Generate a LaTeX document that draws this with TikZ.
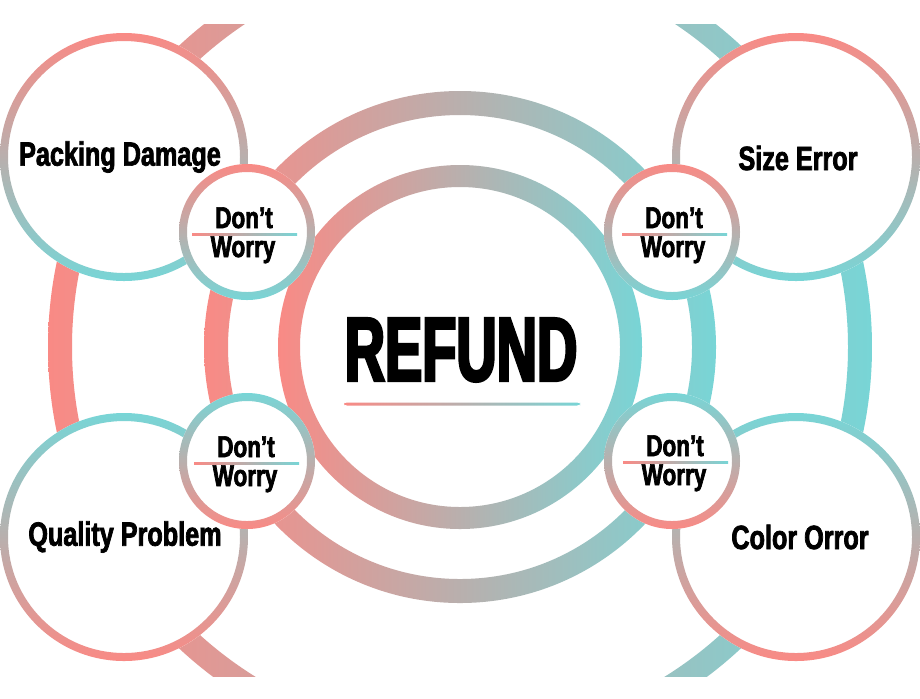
\documentclass[tikz,border=0pt]{standalone}
\usepackage{fontspec}
\newfontfamily\impf{Liberation Sans}[UprightFont=* Bold, FakeStretch=0.75, FakeBold=2.2]
\newfontfamily\impr{Liberation Sans}[UprightFont=* Bold, FakeStretch=0.615, FakeBold=3]
\definecolor{salm}{HTML}{F98A85}
\definecolor{tealc}{HTML}{78D5D6}
\tikzset{
  lbl/.style={inner sep=0pt, font=\impf\fontsize{16.8}{18}\selectfont, text=black},
  dw/.style={inner sep=0pt, font=\impf\fontsize{15}{16}\selectfont, text=black},
  hgrad/.style={left color=salm, right color=tealc, even odd rule},
  sdown/.style={top color=salm, bottom color=tealc, even odd rule},
  tdown/.style={top color=tealc, bottom color=salm, even odd rule},
}
\begin{document}
\begin{tikzpicture}[x=0.5pt,y=-0.5pt]
\useasboundingbox (0,0) rectangle (920,698);
\fill[white] (0,0) rectangle (920,698);
\coordinate (C) at (460,347);
% outer ring (clipped)
\begin{scope}
\clip (0,24) rectangle (920,676);
\shade[hgrad] (C) circle (412) (C) circle (388);
\end{scope}
% middle and inner rings
\shade[hgrad] (C) circle (256) (C) circle (232);
\shade[hgrad] (C) circle (182) (C) circle (160);
% big circles
\foreach \p/\s in {{(124,157)}/sdown, {(796,157)}/sdown, {(124,537)}/tdown, {(796,537)}/tdown}{
  \fill[white] \p circle (124);
  \shade[\s] \p circle (124) \p circle (116);
}
% small circles
\foreach \p/\s in {{(247,232)}/sdown, {(672,232)}/sdown, {(247,461)}/tdown, {(672,461)}/tdown}{
  \fill[white] \p circle (68);
  \shade[\s] \p circle (68) \p circle (60);
}
% center text
\node[inner sep=0pt, font=\impr\fontsize{45.4}{48}\selectfont] (refund) at (461,350) {REFUND};
\shade[left color=salm, right color=tealc, rounded corners=1.5] (344,402.5) rectangle (580,405.5);
% labels
\node[lbl] (pd) at (120,157) {Packing Damage};
\node[lbl] (se) at (798,158) {Size Error};
\node[lbl] (qp) at (125,537) {Quality Problem};
\node[lbl] (co) at (800,537) {Color Orror};
% don't worry
\foreach \x/\y/\n in {244/234/a, 674/234/b, 246/463/c, 675/462/d}{
  \node[dw, anchor=base] (d\n) at (\x,\y-6) {Don’t};
  \node[dw, anchor=base] (w\n) at (\x-1,\y+23) {Worry};
  \shade[left color=salm, right color=tealc] (\x-52,\y-1) rectangle (\x+53,\y+1);
}
\end{tikzpicture}
\end{document}
